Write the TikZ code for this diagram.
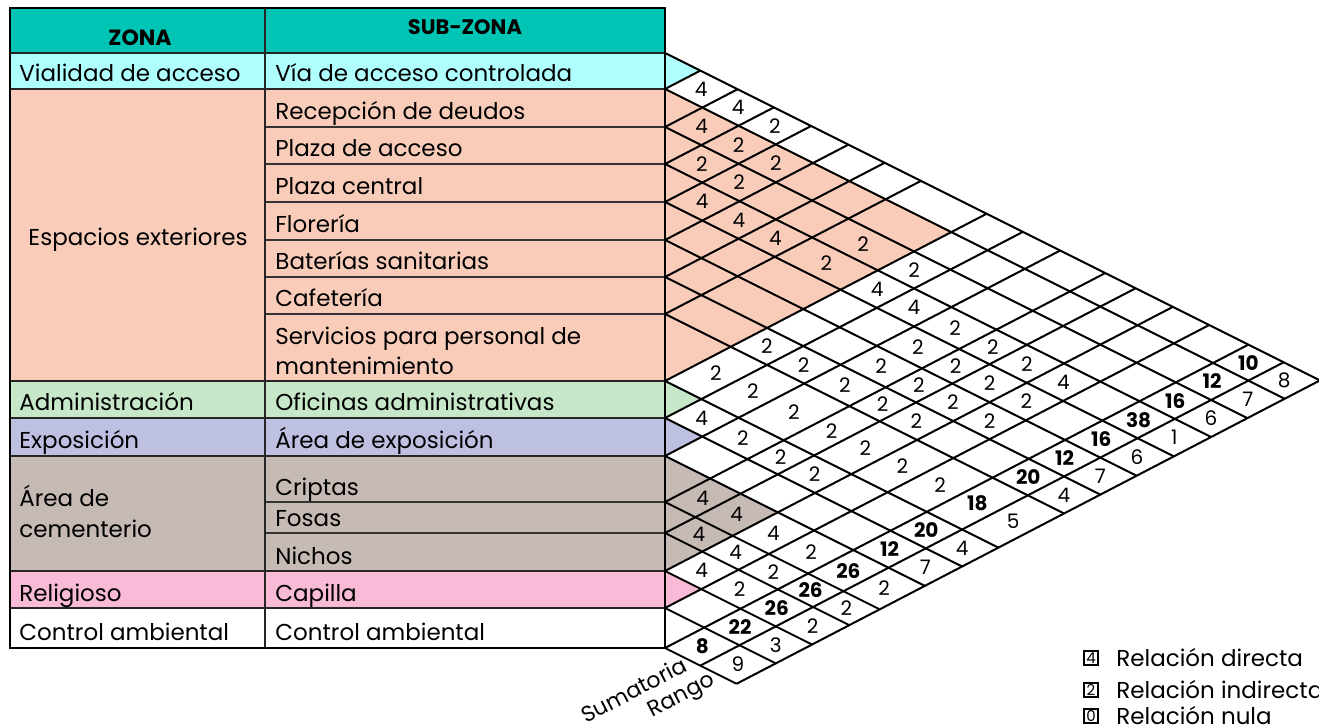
\documentclass[tikz,border=0pt]{standalone}
\usepackage{fontspec}
\setmainfont{Poppins}

\definecolor{encabezado}{RGB}{0,196,180}
\definecolor{vialidad}{RGB}{175,255,255}
\definecolor{exteriores}{RGB}{249,204,186}
\definecolor{admin}{RGB}{198,232,200}
\definecolor{expo}{RGB}{190,192,225}
\definecolor{cementerio}{RGB}{197,186,180}
\definecolor{religioso}{RGB}{248,186,214}

% limites de las filas (0..17), las dos ultimas son Sumatoria y Rango
\def\bordes{{53,89,127,164,202,240,277,314,381,418,456,502,533,571,608,648,684,721}}
% centro de la fila n
\newcommand{\centro}[2]{%
  \pgfmathtruncatemacro{\na}{#2-1}%
  \pgfmathsetmacro{\ba}{\bordes[\na]}%
  \pgfmathsetmacro{\bb}{\bordes[#2]}%
  \pgfmathsetmacro{#1}{(\ba+\bb)/2}}

\begin{document}
\begin{tikzpicture}[x=0.5pt, y=-0.5pt,
  texto/.style={anchor=base west, inner sep=0pt, font=\fontsize{11.5}{13}\selectfont},
  cifra/.style={inner sep=0pt, font=\fontsize{10}{12}\selectfont},
  rejilla/.style={line width=1pt}]
\useasboundingbox (0,0) rectangle (1319,726);

% Zonas de la tabla
\foreach \t/\u/\col in {8/53/encabezado, 53/89/vialidad, 89/381/exteriores, 381/418/admin, 418/456/expo, 456/571/cementerio, 571/608/religioso}
  \fill[\col] (10,\t) rectangle (665,\u);

% Triangulos de relacion interna de cada zona
\foreach \t/\u/\col in {53/89/vialidad, 89/381/exteriores, 381/418/admin, 418/456/expo, 456/571/cementerio, 571/608/religioso}
  \fill[\col] (665,\t) -- ({665+(\u-\t)/1.02},{\t+0.5*(\u-\t)/1.02}) -- (665,\u) -- cycle;

% Lineas de la tabla
\foreach \y in {127,164,202,240,277,314,502,533}
  \draw[black!80, line width=0.6pt] (265,\y) -- (665,\y);
\foreach \y in {53,89,381,418,456,571,608}
  \draw[black!85, line width=1pt] (10,\y) -- (665,\y);
\draw[black!85, line width=1pt] (265,8) -- (265,648);
\draw[line width=1.2pt] (10,8) rectangle (665,648);

% Encabezado
\node[inner sep=0pt, font=\fontsize{11}{12}\bfseries] (zona) at (140,38) {ZONA};
\node[inner sep=0pt, font=\fontsize{10.5}{12}\bfseries] (subzona) at (465,27) {SUB-ZONA};

% Zonas
\node[texto] (z-vialidad) at (19,82) {Vialidad de acceso};
\node[texto, anchor=base] (z-exteriores) at (138,246) {Espacios exteriores};
\node[texto] (z-admin) at (19,411) {Administración};
\node[texto] (z-expo) at (19,449) {Exposición};
\node[texto] (z-cem1) at (19,507) {Área de};
\node[texto] (z-cem2) at (19,538) {cementerio};
\node[texto] (z-religioso) at (19,602) {Religioso};
\node[texto] (z-control) at (19,641) {Control ambiental};

% Sub-zonas
\foreach \y/\txt [count=\n] in {82/Vía de acceso controlada, 120/Recepción de deudos, 157/Plaza de acceso,
  195/Plaza central, 233/Florería, 270/Baterías sanitarias, 307/Cafetería, 345/Servicios para personal de,
  375/mantenimiento, 411/Oficinas administrativas, 449/Área de exposición, 496/Criptas, 527/Fosas,
  565/Nichos, 602/Capilla, 641/Control ambiental}
  \node[texto] (s-\n) at (275,\y) {\txt};

% Rejilla de la matriz
\foreach \k in {0,...,15} {
  \pgfmathsetmacro{\yi}{\bordes[\k]}
  \draw[rejilla] (665,\yi) -- ({665+(721-\yi)/1.02},{\yi+0.5*(721-\yi)/1.02});
}
\foreach \k in {1,...,17} {
  \pgfmathsetmacro{\yj}{\bordes[\k]}
  \pgfmathsetmacro{\yi}{min(\yj,648)}
  \draw[rejilla] ({665+(\yj-\yi)/1.02},{\yi+0.5*(\yj-\yi)/1.02}) -- ({665+(\yj-53)/1.02},{53+0.5*(\yj-53)/1.02});
}

% Relaciones entre sub-zonas
\foreach \i/\j/\v in {1/2/4, 1/3/4, 1/4/2, 2/3/4, 2/4/2, 2/5/2, 3/4/2, 3/5/2, 3/8/2, 3/9/2,
  4/5/4, 4/6/4, 4/7/4, 4/8/2, 4/9/4, 4/10/4, 4/11/2, 4/12/2, 4/13/2, 4/14/4,
  5/11/2, 5/12/2, 5/13/2, 5/14/2, 6/11/2, 6/12/2, 6/13/2, 6/14/2,
  7/9/2, 7/10/2, 7/11/2, 7/12/2, 7/13/2, 8/9/2, 8/10/2, 8/11/2, 8/12/2, 8/13/2, 8/14/2, 8/15/2,
  9/10/4, 9/11/2, 9/12/2, 9/13/2, 11/12/4, 11/13/4, 11/14/4, 11/15/2,
  12/13/4, 12/14/4, 12/15/2, 13/14/4, 13/15/2} {
  \centro{\yi}{\i}
  \centro{\yj}{\j}
  \node[cifra] (c-\i-\j) at ({665+(\yj-\yi)/1.02},{\yi+0.5*(\yj-\yi)/1.02}) {\v};
}

% Sumatoria
\foreach \v [count=\i] in {10,12,16,38,16,12,20,18,20,12,26,26,26,22,8} {
  \centro{\yi}{\i}
  \node[cifra, font=\fontsize{10}{12}\bfseries] (sum-\i) at ({665+(666-\yi)/1.02},{\yi+0.5*(666-\yi)/1.02}) {\v};
}

% Rango
\foreach \v [count=\i] in {8,7,6,1,6,7,4,5,4,7,2,2,2,3,9} {
  \centro{\yi}{\i}
  \node[cifra] (rango-\i) at ({665+(702.5-\yi)/1.02},{\yi+0.5*(702.5-\yi)/1.02}) {\v};
}

\node[texto, anchor=east, rotate=27.5, font=\fontsize{11}{12}\selectfont] (sumatoria) at (685,663) {Sumatoria};
\node[texto, anchor=east, rotate=27.5, font=\fontsize{11}{12}\selectfont] (rango) at (714,680) {Rango};

% Leyenda
\foreach \n/\y/\txt/\lw in {4/658/directa/1.1pt, 2/690/indirecta/0.8pt, 0/716/nula/0.6pt} {
  \node[draw, line width=\lw, minimum size=7pt, inner sep=0pt, font=\fontsize{7.5}{8}\selectfont] (ley-\n) at (1091,\y) {\n};
  \node[texto, anchor=west] (leytxt-\n) at (1116,\y) {Relación \txt};
}
\end{tikzpicture}
\end{document}
